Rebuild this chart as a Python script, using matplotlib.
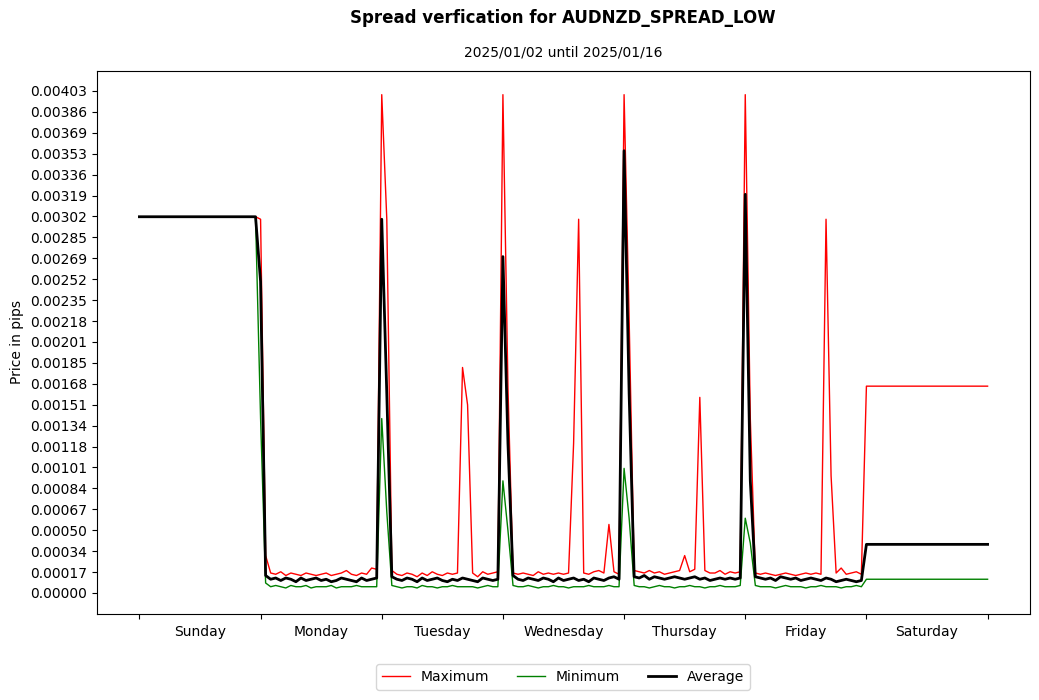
import numpy as np
import matplotlib
matplotlib.use("Agg")
import matplotlib.pyplot as plt

days = ["Sunday", "Monday", "Tuesday", "Wednesday", "Thursday", "Friday", "Saturday"]
UNIT = 1e-5  # values below are in units of 0.00001

sun_max = [302]*24
sun_min = [302]*24
sun_avg = [302]*24
mon_max = [300,30,16,15,17,14,16,15,14,16,15,14,15,16,14,15,16,18,15,14,16,15,20,19]
mon_min = [140,8,5,6,5,4,6,5,5,6,4,5,5,5,6,4,5,5,5,6,5,5,5,5]
mon_avg = [250,14,11,12,10,12,11,9,12,10,11,12,10,11,9,10,12,11,10,9,12,10,11,12]
tue_max = [400,300,18,15,14,16,15,13,16,14,17,15,14,16,15,16,181,151,16,13,17,15,16,17]
tue_min = [140,65,6,5,4,5,5,4,6,5,5,4,5,5,6,5,5,5,5,4,5,6,5,5]
tue_avg = [300,160,13,11,10,12,11,9,12,10,11,12,10,9,11,10,12,11,10,9,12,11,10,11]
wed_max = [400,165,16,15,16,15,14,17,15,16,15,16,15,16,120,300,16,15,17,18,16,55,17,15]
wed_min = [90,50,6,5,5,6,5,4,5,5,6,5,5,4,5,5,5,6,5,5,5,6,5,5]
wed_avg = [270,120,14,11,10,12,11,10,12,11,9,12,10,11,12,10,11,9,12,11,10,12,13,11]
thu_max = [400,220,18,17,16,18,16,17,15,16,17,18,30,17,19,157,18,16,16,18,15,17,16,17]
thu_min = [100,60,6,5,5,4,5,6,5,5,4,5,5,6,5,5,4,5,5,6,5,5,5,6]
thu_avg = [355,160,13,12,14,11,13,12,11,12,13,12,11,12,13,11,12,10,11,12,11,12,11,12]
fri_max = [400,140,16,15,16,15,14,15,16,15,14,15,16,15,16,15,300,94,16,20,15,16,17,15]
fri_min = [60,40,6,5,5,5,4,5,6,5,5,5,4,5,5,6,5,5,5,4,5,5,6,5]
fri_avg = [320,90,13,12,11,12,10,13,12,11,12,10,11,12,11,10,12,11,9,10,11,10,9,10]
sat_max = [166]*25
sat_min = [11]*25
sat_avg = [39]*25

vmax = np.array(sun_max+mon_max+tue_max+wed_max+thu_max+fri_max+sat_max)*UNIT
vmin = np.array(sun_min+mon_min+tue_min+wed_min+thu_min+fri_min+sat_min)*UNIT
vavg = np.array(sun_avg+mon_avg+tue_avg+wed_avg+thu_avg+fri_avg+sat_avg)*UNIT
x = np.arange(len(vmax))/24.0

fig = plt.figure(figsize=(10.39, 7.0), dpi=100)
ax = fig.add_axes([97/1039, 1-614/700, (1030-97)/1039, (614-71)/700])
ax.plot(x, vmax, color="red", lw=1, label="Maximum")
ax.plot(x, vmin, color="green", lw=1, label="Minimum")
ax.plot(x, vavg, color="black", lw=2, label="Average")

ax.set_xlim(-0.35, 7.35)
ax.set_ylim(-0.000169, 0.00419)
yt = np.linspace(0, 0.00403, 25)
ax.set_yticks(yt)
ax.set_yticklabels([f"{v:.5f}" for v in yt])
ax.set_xticks(range(8))
ax.set_xticklabels([""]*8)
ax.set_xticks(np.arange(7)+0.5, minor=True)
ax.set_xticklabels(days, minor=True)
ax.tick_params(axis="x", which="minor", length=0, pad=8)
ax.set_ylabel("Price in pips")

cx = 563/1039
fig.text(cx, 1-18/700, "Spread verfication for AUDNZD_SPREAD_LOW", ha="center", va="center",
         fontsize=12, fontweight="bold")
fig.text(cx, 1-53/700, "2025/01/02 until 2025/01/16", ha="center", va="center", fontsize=10)
fig.legend(loc="center", bbox_to_anchor=(cx, 1-677/700), ncol=3, frameon=True)
fig.savefig("out.png", dpi=100)
